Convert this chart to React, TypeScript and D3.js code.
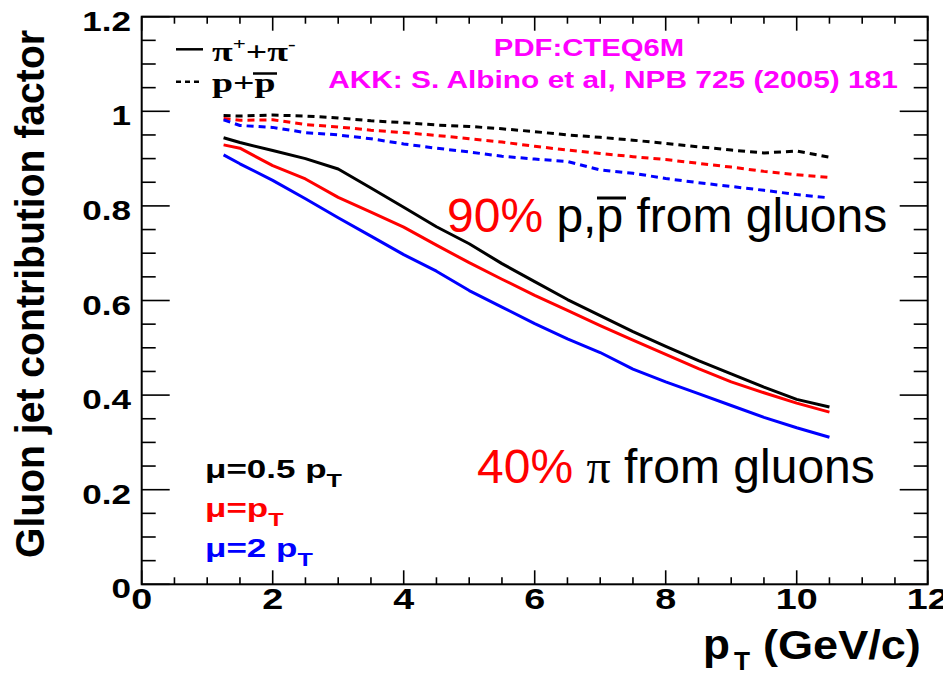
import React from "react";
import * as d3 from "d3";

// Transverse momentum grid (GeV/c)
const PT = [1.25, 1.5, 2, 2.5, 3, 3.5, 4, 4.5, 5, 5.5, 6, 6.5, 7, 7.5, 8, 8.5, 9, 9.5, 10, 10.5];

// Gluon jet contribution factor for pi+ + pi- (solid lines)
const PION_MU_HALF = [0.944, 0.934, 0.917, 0.900, 0.878, 0.838, 0.797, 0.756, 0.720, 0.678, 0.640, 0.602, 0.568, 0.534, 0.503, 0.473, 0.445, 0.417, 0.391, 0.375];
const PION_MU_ONE = [0.929, 0.922, 0.885, 0.857, 0.818, 0.787, 0.755, 0.717, 0.680, 0.645, 0.611, 0.579, 0.547, 0.516, 0.486, 0.456, 0.428, 0.405, 0.383, 0.364];
const PION_MU_TWO = [0.908, 0.889, 0.854, 0.815, 0.775, 0.736, 0.697, 0.662, 0.621, 0.586, 0.551, 0.519, 0.490, 0.455, 0.428, 0.403, 0.378, 0.353, 0.331, 0.311];

// Gluon jet contribution factor for p + pbar (dashed lines)
const PROTON_MU_HALF = [0.991, 0.990, 0.992, 0.990, 0.986, 0.980, 0.976, 0.971, 0.968, 0.963, 0.957, 0.950, 0.945, 0.939, 0.932, 0.925, 0.918, 0.912, 0.916, 0.903];
const PROTON_MU_ONE = [0.985, 0.981, 0.982, 0.972, 0.967, 0.960, 0.955, 0.949, 0.942, 0.935, 0.926, 0.918, 0.911, 0.904, 0.898, 0.890, 0.882, 0.873, 0.866, 0.860];
const PROTON_MU_TWO = [0.982, 0.970, 0.966, 0.955, 0.950, 0.942, 0.931, 0.922, 0.914, 0.905, 0.899, 0.894, 0.876, 0.869, 0.858, 0.849, 0.841, 0.833, 0.824, 0.817];

const X_TICKS = [0, 2, 4, 6, 8, 10, 12];
const Y_TICKS = [0, 0.2, 0.4, 0.6, 0.8, 1, 1.2];
const Y_TICK_LABELS = ["0", "0.2", "0.4", "0.6", "0.8", "1", "1.2"];

const W = 943;
const H = 673;
const LEFT = 141.7;
const RIGHT = 927.7;
const TOP = 16.7;
const BOTTOM = 584.3;

const SANS = "'Liberation Sans', Arial, Helvetica, sans-serif";
const SERIF = "'Liberation Serif', 'Times New Roman', serif";
const BLACK = "#000000";
const RED = "#ff0000";
const BLUE = "#0000ff";
const MAGENTA = "#ff00ff";

const x = d3.scaleLinear().domain([0, 12]).range([LEFT, RIGHT]);
const y = d3.scaleLinear().domain([0, 1.2]).range([BOTTOM, TOP]);

const lineGen = d3
  .line<[number, number]>()
  .x((d) => x(d[0]))
  .y((d) => y(d[1]));

const series = [
  { values: PION_MU_HALF, color: BLACK, dashed: false },
  { values: PION_MU_ONE, color: RED, dashed: false },
  { values: PION_MU_TWO, color: BLUE, dashed: false },
  { values: PROTON_MU_HALF, color: BLACK, dashed: true },
  { values: PROTON_MU_ONE, color: RED, dashed: true },
  { values: PROTON_MU_TWO, color: BLUE, dashed: true },
];

// Text horizontally widened around its anchor point
function WideText(props: {
  x: number;
  y: number;
  sx: number;
  size: number;
  anchor?: "start" | "middle" | "end";
  weight?: string;
  family?: string;
  fill?: string;
  children: React.ReactNode;
}) {
  const { x: tx, y: ty, sx, size, anchor = "start", weight = "bold", family = SANS, fill = BLACK, children } = props;
  return (
    <text
      transform={`translate(${tx},${ty}) scale(${sx},1)`}
      textAnchor={anchor}
      fontSize={size}
      fontWeight={weight}
      fontFamily={family}
      fill={fill}
    >
      {children}
    </text>
  );
}

export default function App() {
  const xMinor = d3.range(0, 12.001, 0.5).filter((v) => Math.abs(v / 2 - Math.round(v / 2)) > 1e-6);
  const yMinor = d3.range(0, 1.2001, 0.05).filter((v) => Math.abs(v / 0.2 - Math.round(v / 0.2)) > 1e-6);

  const X_MAJ = 14;
  const X_MIN = 7;
  const Y_MAJ = 28;
  const Y_MIN = 14;

  return (
    <svg
      width={W}
      height={H}
      viewBox={`0 0 ${W} ${H}`}
      style={{ position: "absolute", left: 0, top: 0, background: "#ffffff" }}
    >
      <rect x={0} y={0} width={W} height={H} fill="#ffffff" />

      {/* curves */}
      <g fill="none" strokeWidth={3} strokeLinejoin="round">
        {series.map((s, i) => (
          <path
            key={i}
            d={lineGen(PT.map((p, j) => [p, s.values[j]] as [number, number])) || ""}
            stroke={s.color}
            strokeDasharray={s.dashed ? "7 5" : undefined}
          />
        ))}
      </g>

      {/* ticks on all four sides */}
      <g stroke={BLACK} strokeWidth={1.6}>
        {X_TICKS.map((v) => (
          <g key={`xM${v}`}>
            <line x1={x(v)} x2={x(v)} y1={BOTTOM} y2={BOTTOM - X_MAJ} />
            <line x1={x(v)} x2={x(v)} y1={TOP} y2={TOP + X_MAJ} />
          </g>
        ))}
        {xMinor.map((v) => (
          <g key={`xm${v}`}>
            <line x1={x(v)} x2={x(v)} y1={BOTTOM} y2={BOTTOM - X_MIN} />
            <line x1={x(v)} x2={x(v)} y1={TOP} y2={TOP + X_MIN} />
          </g>
        ))}
        {Y_TICKS.map((v) => (
          <g key={`yM${v}`}>
            <line x1={LEFT} x2={LEFT + Y_MAJ} y1={y(v)} y2={y(v)} />
            <line x1={RIGHT} x2={RIGHT - Y_MAJ} y1={y(v)} y2={y(v)} />
          </g>
        ))}
        {yMinor.map((v) => (
          <g key={`ym${v}`}>
            <line x1={LEFT} x2={LEFT + Y_MIN} y1={y(v)} y2={y(v)} />
            <line x1={RIGHT} x2={RIGHT - Y_MIN} y1={y(v)} y2={y(v)} />
          </g>
        ))}
      </g>

      {/* frame */}
      <rect
        x={LEFT}
        y={TOP}
        width={RIGHT - LEFT}
        height={BOTTOM - TOP}
        fill="none"
        stroke={BLACK}
        strokeWidth={2}
      />

      {/* tick labels */}
      {Y_TICKS.map((v, i) => (
        <WideText key={`yl${v}`} x={131} y={y(v) + 14} sx={1.3} size={27} anchor="end">
          {Y_TICK_LABELS[i]}
        </WideText>
      ))}
      {X_TICKS.map((v) => (
        <WideText key={`xl${v}`} x={x(v)} y={609} sx={1.3} size={29} anchor="middle">
          {String(v)}
        </WideText>
      ))}

      {/* axis titles */}
      <text
        transform={`translate(44,294) rotate(-90)`}
        textAnchor="middle"
        fontSize={40}
        fontWeight="bold"
        fontFamily={SANS}
        textLength={528}
        lengthAdjust="spacingAndGlyphs"
        fill={BLACK}
      >
        Gluon jet contribution factor
      </text>
      <WideText x={703} y={659} sx={1.05} size={42}>
        p
      </WideText>
      <WideText x={734} y={670} sx={1.05} size={25}>
        T
      </WideText>
      <WideText x={763} y={659} sx={1.1} size={41}>
        (GeV/c)
      </WideText>

      {/* particle legend */}
      <line x1={176} x2={203} y1={49.3} y2={49.3} stroke={BLACK} strokeWidth={2.5} />
      <line x1={176} x2={203} y1={81.7} y2={81.7} stroke={BLACK} strokeWidth={2.5} strokeDasharray="5 4" />
      <WideText x={212} y={61} sx={1.35} size={28} family={SERIF}>
        π
        <tspan fontSize={17} dy={-11}>+</tspan>
        <tspan fontSize={28} dy={11}>+π</tspan>
        <tspan fontSize={17} dy={-11}>-</tspan>
      </WideText>
      <WideText x={212} y={92} sx={1.35} size={28} family={SERIF}>
        p+p
      </WideText>
      <line x1={253} x2={277} y1={73.5} y2={73.5} stroke={BLACK} strokeWidth={2.5} />

      {/* reference notes */}
      <WideText x={589} y={56} sx={1.22} size={24} anchor="middle" fill={MAGENTA}>
        PDF:CTEQ6M
      </WideText>
      <WideText x={613} y={88} sx={1.245} size={24} anchor="middle" fill={MAGENTA}>
        AKK: S. Albino et al, NPB 725 (2005) 181
      </WideText>

      {/* scale legend */}
      <WideText x={205} y={478} sx={1.4} size={25} fill={BLACK}>
        μ=0.5 p<tspan fontSize={18} dy={9}>T</tspan>
      </WideText>
      <WideText x={205} y={517} sx={1.4} size={25} fill={RED}>
        μ=p<tspan fontSize={18} dy={9}>T</tspan>
      </WideText>
      <WideText x={205} y={557} sx={1.4} size={25} fill={BLUE}>
        μ=2 p<tspan fontSize={18} dy={9}>T</tspan>
      </WideText>

      {/* annotations */}
      <text x={447} y={232} fontSize={48} fontFamily={SANS} fill={BLACK}>
        <tspan fill={RED}>90%</tspan> p,p from gluons
      </text>
      <line x1={597} x2={626} y1={198} y2={198} stroke={BLACK} strokeWidth={3} />
      <text x={477} y={483} fontSize={48} fontFamily={SANS} fill={BLACK}>
        <tspan fill={RED}>40%</tspan> <tspan fontFamily={SERIF}>π</tspan> from gluons
      </text>
    </svg>
  );
}
